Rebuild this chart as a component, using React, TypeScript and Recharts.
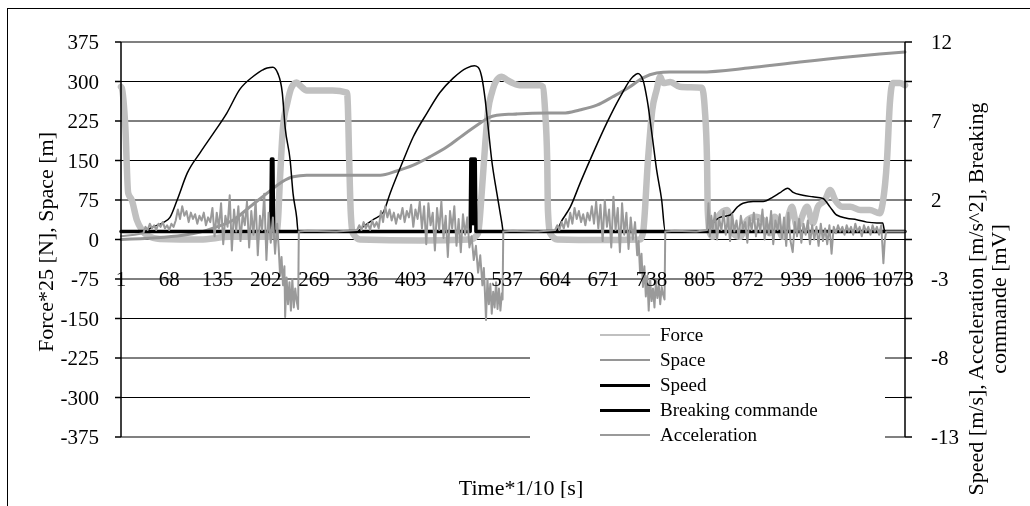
import { CartesianGrid, Legend, Line, LineChart, ReferenceLine, XAxis, YAxis } from "recharts";

const FONT = '"Liberation Serif", "Times New Roman", serif';

const X_TICKS = [1, 68, 135, 202, 269, 336, 403, 470, 537, 604, 671, 738, 805, 872, 939, 1006, 1073];
const LEFT_TICKS = [-375, -300, -225, -150, -75, 0, 75, 150, 225, 300, 375];
const RIGHT_TICKS = [-13, -10.5, -8, -5.5, -3, -0.5, 2, 4.5, 7, 9.5, 12];

// [time, value] pairs
const force = [
  [1, 290], [2, 288], [7, 214], [11, 88], [16, 75], [23, 37], [30, 18], [37, 8], [55, 1], [111, 0], [152, 5], [208, 5],
  [218, 19], [222, 120], [226, 213], [232, 259], [238, 289], [245, 298], [250, 292], [259, 283], [295, 283], [315, 279],
  [316, 258], [318, 150], [320, 55], [323, 12], [333, 0], [416, -2], [486, 0], [497, 12], [502, 88], [507, 183], [511, 246],
  [516, 278], [523, 303], [530, 309], [537, 303], [545, 297], [555, 293], [583, 293], [587, 290], [590, 246], [593, 151],
  [594, 56], [597, 12], [607, 0], [666, -1], [722, 0], [726, 12], [733, 151], [739, 246], [745, 284], [750, 309], [754, 297],
  [764, 299], [777, 290], [808, 288], [812, 246], [815, 151], [816, 56], [819, 12], [823, 5], [830, 43], [843, 56], [851, 12],
  [861, 5], [871, 37], [882, 43], [893, 37], [902, 12], [909, 43], [920, 5], [933, 62], [940, 24], [954, 62], [962, 31],
  [969, 62], [979, 75], [986, 94], [993, 75], [1003, 62], [1014, 62], [1028, 56], [1041, 56], [1055, 50], [1059, 69],
  [1065, 151], [1069, 259], [1073, 297], [1083, 297], [1090, 293],
];

const space = [
  [1, 0], [87, 8], [111, 14], [134, 24], [157, 37], [180, 62], [204, 88], [218, 103], [229, 113], [240, 119], [259, 122],
  [295, 122], [343, 122], [361, 122], [384, 130], [407, 141], [430, 157], [454, 176], [476, 198], [500, 221], [511, 231],
  [523, 236], [545, 238], [593, 240], [615, 240], [638, 246], [662, 255], [684, 271], [708, 290], [726, 307], [745, 316],
  [763, 318], [805, 318], [875, 326], [944, 337], [1014, 347], [1055, 352], [1090, 356],
];

const speed = [
  [1, 0], [32, 0], [45, 0.3], [59, 0.55], [69, 0.9], [79, 2.0], [93, 3.7], [111, 5.0], [129, 6.2], [148, 7.5], [166, 9.0],
  [184, 9.8], [204, 10.35], [212, 10.4], [219, 10.0], [225, 8.8], [229, 6.6], [236, 4.5], [240, 2.4], [245, 0.9], [247, 0],
  [329, 0], [337, 0.3], [351, 0.75], [365, 1.2], [375, 2.45], [393, 4.5], [407, 6.0], [426, 7.5], [444, 8.8], [462, 9.7],
  [481, 10.35], [492, 10.5], [497, 10.4], [502, 9.8], [507, 8.3], [511, 6.6], [516, 4.5], [523, 2.45], [530, 0.55], [532, 0],
  [604, 0], [614, 0.75], [625, 1.55], [639, 3.1], [657, 5.0], [676, 6.9], [694, 8.5], [712, 9.8], [719, 10.0], [726, 9.6],
  [732, 8.3], [739, 6.0], [745, 3.9], [752, 2.0], [757, 0], [815, 0], [823, 0.55], [833, 0.9], [847, 1.05], [857, 1.55],
  [865, 1.8], [879, 1.9], [893, 1.9], [907, 2.2], [916, 2.45], [927, 2.75], [934, 2.5], [948, 2.3], [962, 2.2], [976, 2.1],
  [986, 1.55], [995, 1.05], [1009, 0.85], [1023, 0.75], [1037, 0.6], [1051, 0.55], [1059, 0.55], [1062, 0], [1090, 0],
];

const breaking = [
  [1, 0], [209, 0], [210, 4.6], [211, 0.5], [212, 4.6], [213, 0],
  [486, 0], [487, 4.6], [488, 0.5], [489, 4.6], [490, 0.5], [491, 4.6], [492, 0.5], [493, 4.6], [494, 0], [1090, 0],
];

const acceleration = [
  [1, -0.3], [20, -0.2], [32, -0.1],
  [35, 0.3], [38, 0.1], [41, 0.5], [44, 0.2], [47, 0.4], [50, 0.1], [53, 0.5], [56, 0.3], [59, 0.6], [62, 0.2], [65, 0.4],
  [68, 0.1], [71, 0.5], [74, 0.3], [77, 0.7],
  [80, 1.4], [83, 0.8], [86, 1.6], [89, 1.0], [92, 1.3], [95, 0.6], [98, 1.2], [101, 0.8], [104, 1.1], [107, 0.5], [110, 1.0],
  [113, 0.7], [116, 1.2], [119, 0.4], [122, 0.9], [125, 0.6],
  [128, 1.5], [131, -0.3], [134, 1.2], [137, 0.2], [140, 1.8], [143, -0.8], [146, 1.0], [149, 0.3], [152, 2.3], [155, -1.2],
  [158, 1.4], [161, 0.0], [164, 1.6], [167, -0.6], [170, 1.1],
  [173, 0.4], [176, 1.9], [179, -1.0], [182, 1.3], [185, -0.2], [188, 2.0], [191, -1.5], [194, 1.0], [197, 0.1], [200, 2.4],
  [203, -1.8], [206, 1.2], [209, -0.7], [212, 0.9], [215, -1.4], [218, 0.5],
  [220, -1.0], [222, -2.8], [224, -1.6], [226, -3.4], [228, -2.2], [229, -5.4], [231, -2.9], [233, -4.6], [235, -3.2],
  [237, -5.0], [239, -3.0], [241, -4.8], [243, -3.6], [245, -4.4], [247, -4.9], [248, 0],
  [260, 0.05], [300, 0], [329, 0.1],
  [332, 0.4], [335, 0.1], [338, 0.6], [341, 0.2], [344, 0.5], [347, 0.1], [350, 0.7], [353, 0.3], [356, 0.6], [359, 0.2],
  [362, 1.3], [365, 0.6], [368, 1.6], [371, 0.9], [374, 1.4], [377, 0.7], [380, 1.2], [383, 0.5], [386, 1.1], [389, 0.8],
  [392, 1.5], [395, 0.6], [398, 1.3], [401, 0.9], [404, 1.7], [407, 0.3], [410, 1.4], [413, 0.8], [416, 1.9], [419, 0.2],
  [422, 1.6], [425, -0.8], [428, 1.8], [431, 0.4], [434, 1.2], [437, -1.2], [440, 1.5], [443, 0.1], [446, 1.9], [449, -0.4],
  [452, 1.0], [455, -1.6], [458, 1.3], [461, 0.2], [464, 1.6], [467, -0.9], [470, 0.8], [473, -1.3], [476, 1.1], [479, -0.2],
  [482, 0.9], [485, -1.0],
  [488, -0.3], [491, -1.8], [494, -0.9], [497, -2.6], [500, -1.5], [503, -3.4], [505, -2.3], [507, -4.4], [508, -5.6],
  [510, -3.0], [512, -4.6], [514, -3.3], [516, -5.2], [518, -3.8], [520, -4.8], [522, -3.2], [524, -4.9], [526, -3.6],
  [528, -5.0], [530, -3.9], [531, -4.3], [532, 0],
  [545, 0.05], [580, 0], [604, 0.1],
  [607, 0.4], [610, 0.1], [613, 0.6], [616, 0.2], [619, 0.8], [622, 0.3],
  [625, 1.2], [628, 0.5], [631, 1.5], [634, 0.8], [637, 1.3], [640, 0.6], [643, 1.1], [646, 0.4], [649, 1.2], [652, 0.7],
  [655, 1.6], [658, 0.5], [661, 1.9], [664, 0.2], [667, 1.7], [670, -0.6], [673, 2.0], [676, 0.3], [679, 1.4], [682, -1.0],
  [685, 2.2], [688, 0.1], [691, 1.5], [694, -1.3], [697, 1.8], [700, -0.2], [703, 1.2], [706, -1.1], [709, 0.9], [712, -0.5],
  [715, 0.6],
  [718, -1.5], [720, -0.6], [722, -2.6], [724, -1.4], [726, -3.5], [728, -2.2], [730, -4.1], [732, -2.8], [734, -5.0],
  [736, -3.0], [738, -4.4], [740, -3.6], [742, -4.8], [744, -3.1], [746, -4.2], [748, -3.4], [750, -4.6], [752, -3.5],
  [754, -4.0], [756, -4.3], [757, 0],
  [770, 0.05], [800, 0], [815, 0.1],
  [817, 1.8], [819, -0.3], [821, 1.0], [823, 0.2], [826, 1.2], [829, -0.5], [832, 0.8], [835, 0.1], [838, 1.3], [841, -0.2],
  [844, 0.9], [847, -0.6], [850, 1.1], [853, 0.0], [856, 0.7], [859, -0.4], [862, 1.0], [865, 0.2], [868, 0.6], [871, -0.7],
  [874, 0.9], [877, 0.1], [880, 1.2], [883, -0.3], [886, 0.8], [889, 0.0], [892, 1.4], [895, -0.5], [898, 0.9], [901, -0.2],
  [904, 1.3], [907, -0.8], [910, 0.7], [913, 0.1], [916, 1.1], [919, -0.4], [922, 0.9], [925, -0.9], [928, 1.2], [931, -0.6],
  [934, -1.3], [937, 0.6], [940, -0.3], [943, 0.8], [946, -0.7], [949, 0.5], [952, -0.2], [955, 0.7], [958, -0.8], [961, 0.4],
  [964, -0.5], [967, 0.3], [970, -0.9], [973, 0.5], [976, -0.6], [979, 0.2], [982, -0.8], [985, 0.4], [988, -1.4], [991, 0.3],
  [994, -0.1], [997, 0.4], [1000, 0.0], [1003, 0.3], [1006, -0.2], [1009, 0.4], [1012, 0.0], [1015, 0.3], [1018, -0.2],
  [1021, 0.5], [1024, 0.0], [1027, 0.3], [1030, -0.3], [1033, 0.4], [1036, 0.0], [1039, 0.3], [1042, -0.2], [1045, 0.4],
  [1048, 0.0], [1051, 0.3], [1054, -0.2], [1057, 0.4], [1060, -2.0], [1062, -0.5], [1064, 0], [1090, 0],
];

const toRows = (pts: number[][]) => pts.map(([t, v]) => ({ t, v }));

const SERIES = [
  { name: 'Force', data: force, axis: 'L', color: '#c0c0c0', width: 6.5, type: 'monotone' },
  { name: 'Space', data: space, axis: 'L', color: '#969696', width: 3, type: 'monotone' },
  { name: 'Speed', data: speed, axis: 'R', color: '#000000', width: 1.5, type: 'monotone' },
  { name: 'Breaking commande', data: breaking, axis: 'R', color: '#000000', width: 3.5, type: 'linear' },
  { name: 'Acceleration', data: acceleration, axis: 'R', color: '#9a9a9a', width: 2, type: 'linear' },
]

const W = 1022
const H = 490
const TOP = 34
const PLOT_H = 395
// the time axis crosses the left axis at -75
const CROSS_Y = TOP + (375 - -75) / 750 * PLOT_H

function XTick(props: any) {
  return (
    <text x={props.x} y={CROSS_Y} textAnchor='middle' dominantBaseline='central'
      fontSize={21} fontFamily={FONT} fill='#000'>
      {props.payload.value}
    </text>
  )
}

function Title({ x, y, text, rotate }: { x: number, y: number, text: string, rotate?: boolean }) {
  return (
    <text x={x} y={y} transform={rotate ? `rotate(-90, ${x}, ${y})` : undefined} textAnchor='middle'
      dominantBaseline='central' fontSize={22} fontFamily={FONT} fill='#000'>{text}</text>
  )
}

function XTitle() {
  return <Title x={513} y={479} text='Time*1/10 [s]' />
}

function LeftTitle() {
  return <Title x={37} y={234} rotate text='Force*25 [N], Space [m]' />
}

function RightTitle() {
  return (
    <g>
      <Title x={967} y={291} rotate text='Speed [m/s], Acceleration [m/s^2], Breaking' />
      <Title x={990} y={291} rotate text='commande [mV]' />
    </g>
  )
}

function LegendBox() {
  return (
    <div style={{ position: 'relative', width: 355, height: 122, background: '#fff', fontFamily: FONT, fontSize: 19 }}>
      {SERIES.map((s, i) => (
        <div key={s.name} style={{ position: 'absolute', top: i * 25, left: 0, height: 24, width: 355 }}>
          <div style={{
            position: 'absolute', left: 70, top: 11, width: 50,
            height: s.color === '#000000' ? 2.5 : 2, background: s.color
          }} />
          <span style={{ position: 'absolute', left: 130, top: 0, lineHeight: '24px', whiteSpace: 'nowrap' }}>{s.name}</span>
        </div>
      ))}
    </div>
  )
}

export default function App() {
  return (
    <div style={{ position: 'relative', width: W, height: H }}>
      {/* outer chart frame: only its top and left edges fall inside the picture */}
      <div style={{ position: 'fixed', left: 7, top: 8, width: 1, height: 498, background: '#000' }} />
      <div style={{ position: 'fixed', left: 7, top: 8, width: 1023, height: 1, background: '#000' }} />
      <LineChart width={W} height={H} margin={{ top: TOP, right: 0, bottom: H - TOP - PLOT_H - 30, left: 0 }}>
        <CartesianGrid yAxisId='L' vertical={false} stroke='#000' strokeWidth={1} />
        <XAxis dataKey='t' type='number' domain={[1, 1090]} ticks={X_TICKS} interval={0}
          axisLine={false} tickLine={false} height={30} tick={<XTick />} label={<XTitle />} />
        <YAxis yAxisId='L' type='number' domain={[-375, 375]} ticks={LEFT_TICKS} interval={0} width={113}
          axisLine={{ stroke: '#000', strokeWidth: 1.5 }} tickLine={{ stroke: '#000', strokeWidth: 1.5 }} tickSize={6} tickMargin={16}
          tick={{ fill: '#000', fontSize: 21, fontFamily: FONT }} label={<LeftTitle />} />
        <YAxis yAxisId='R' orientation='right' type='number' domain={[-13, 12]} ticks={RIGHT_TICKS} interval={0} width={125}
          axisLine={{ stroke: '#000', strokeWidth: 1.5 }} tickLine={{ stroke: '#000', strokeWidth: 1.5 }} tickSize={7} tickMargin={19}
          tickFormatter={(v: number) => ((v + 13) % 5 === 0 ? String(v) : '')}
          tick={{ fill: '#000', fontSize: 21, fontFamily: FONT }} label={<RightTitle />} />
        <ReferenceLine yAxisId='L' y={375} stroke='#808080' strokeWidth={2} />
        <ReferenceLine yAxisId='L' y={-375} stroke='#808080' strokeWidth={2} />
        {SERIES.map((s) => (
          <Line key={s.name} yAxisId={s.axis} data={toRows(s.data)} dataKey='v' name={s.name} type={s.type as any}
            stroke={s.color} strokeWidth={s.width} dot={false} activeDot={false} isAnimationActive={false}
            strokeLinejoin='round' strokeLinecap='round' />
        ))}
        <Legend layout='vertical' align='center' verticalAlign='middle' content={<LegendBox />}
          wrapperStyle={{ left: 522, top: 315, width: 355, height: 122 }} />
      </LineChart>
    </div>
  )
}
